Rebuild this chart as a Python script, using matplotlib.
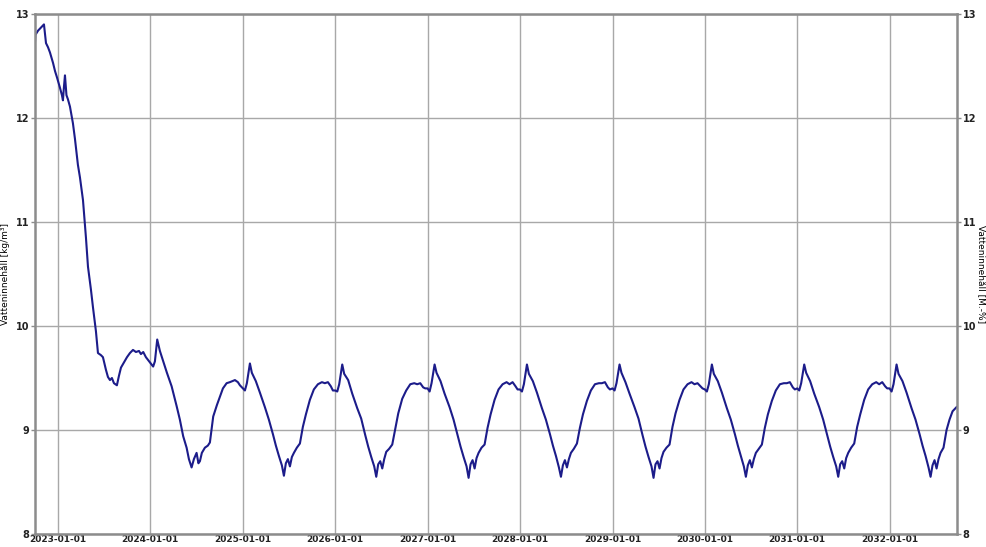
import numpy as np
import pandas as pd
import matplotlib
matplotlib.use("Agg")
from matplotlib import pyplot as plt
import matplotlib.dates as mdates

# first part of the series: decimal year -> water content
start_t = [2022.751, 2022.756, 2022.784, 2022.827, 2022.848, 2022.870, 2022.892, 2022.913,
           2022.946, 2022.968, 2022.989, 2023.022, 2023.043, 2023.054, 2023.065, 2023.076,
           2023.092, 2023.108, 2023.130, 2023.162, 2023.184, 2023.216, 2023.238, 2023.271,
           2023.303, 2023.325, 2023.357, 2023.379, 2023.411, 2023.433, 2023.465, 2023.487,
           2023.519, 2023.541, 2023.563, 2023.584, 2023.606, 2023.638, 2023.660, 2023.682,
           2023.714, 2023.747, 2023.779, 2023.812, 2023.844, 2023.877, 2023.898, 2023.923,
           2023.952, 2023.996]
start_v = [12.73, 12.80, 12.84, 12.88, 12.90, 12.72, 12.68, 12.63,
           12.53, 12.45, 12.39, 12.29, 12.22, 12.17, 12.30, 12.41,
           12.22, 12.18, 12.11, 11.95, 11.80, 11.55, 11.43, 11.21,
           10.85, 10.57, 10.35, 10.18, 9.95, 9.74, 9.72, 9.70,
           9.58, 9.51, 9.48, 9.50, 9.45, 9.43, 9.52, 9.60,
           9.65, 9.70, 9.74, 9.77, 9.75, 9.76, 9.73, 9.75,
           9.70, 9.65]

# year 2024
t_2024 = [2024.031, 2024.050, 2024.075, 2024.104, 2024.140, 2024.180, 2024.231, 2024.285,
          2024.320, 2024.356, 2024.393, 2024.418, 2024.447, 2024.472, 2024.501, 2024.521,
          2024.537, 2024.558, 2024.591, 2024.623, 2024.645, 2024.681, 2024.721, 2024.753,
          2024.786, 2024.826, 2024.861, 2024.916, 2024.948, 2024.970]
v_2024 = [9.61, 9.66, 9.87, 9.76, 9.66, 9.55, 9.42, 9.23,
          9.10, 8.94, 8.83, 8.72, 8.64, 8.72, 8.78, 8.68,
          8.70, 8.78, 8.83, 8.85, 8.88, 9.13, 9.24, 9.32,
          9.40, 9.45, 9.46, 9.48, 9.46, 9.43]

# read positions inside each later year (fraction of year after 1 Jan)
frac = [0.000, 0.022, 0.043, 0.076, 0.097, 0.140, 0.184, 0.238, 0.281, 0.325, 0.357,
        0.390, 0.422, 0.444, 0.465, 0.487, 0.509, 0.530, 0.552, 0.584, 0.617, 0.649,
        0.682, 0.725, 0.768, 0.812, 0.855, 0.887, 0.920, 0.952, 0.974]

v_2025 = [9.40, 9.38, 9.45, 9.64, 9.55, 9.47, 9.36, 9.22, 9.10, 8.96, 8.85,
          8.75, 8.66, 8.56, 8.68, 8.72, 8.65, 8.74, 8.78, 8.83, 8.87, 9.03,
          9.15, 9.29, 9.39, 9.44, 9.46, 9.45, 9.46, 9.42, 9.38]
v_2026 = [9.38, 9.37, 9.44, 9.63, 9.54, 9.48, 9.35, 9.21, 9.11, 8.95, 8.84,
          8.74, 8.65, 8.55, 8.67, 8.70, 8.63, 8.72, 8.79, 8.82, 8.86, 9.01,
          9.16, 9.30, 9.38, 9.44, 9.45, 9.44, 9.45, 9.41, 9.40]
v_2027 = [9.40, 9.37, 9.45, 9.63, 9.55, 9.47, 9.35, 9.22, 9.10, 8.95, 8.84,
          8.74, 8.65, 8.54, 8.67, 8.71, 8.63, 8.73, 8.78, 8.83, 8.86, 9.02,
          9.15, 9.29, 9.39, 9.44, 9.46, 9.44, 9.46, 9.42, 9.39]
v_2028 = [9.39, 9.37, 9.44, 9.63, 9.54, 9.47, 9.36, 9.21, 9.10, 8.96, 8.85,
          8.75, 8.64, 8.55, 8.66, 8.71, 8.64, 8.72, 8.78, 8.82, 8.87, 9.02,
          9.15, 9.28, 9.38, 9.44, 9.45, 9.45, 9.46, 9.41, 9.39]
v_2029 = [9.40, 9.38, 9.45, 9.63, 9.55, 9.46, 9.35, 9.22, 9.11, 8.95, 8.84,
          8.74, 8.65, 8.54, 8.67, 8.70, 8.63, 8.73, 8.79, 8.83, 8.86, 9.03,
          9.16, 9.29, 9.39, 9.44, 9.46, 9.44, 9.45, 9.42, 9.40]
v_2030 = [9.39, 9.37, 9.44, 9.63, 9.54, 9.47, 9.36, 9.21, 9.10, 8.96, 8.85,
          8.75, 8.65, 8.55, 8.66, 8.71, 8.64, 8.72, 8.78, 8.82, 8.86, 9.02,
          9.15, 9.28, 9.38, 9.44, 9.45, 9.45, 9.46, 9.41, 9.39]
v_2031 = [9.40, 9.38, 9.45, 9.63, 9.55, 9.47, 9.35, 9.22, 9.10, 8.95, 8.84,
          8.74, 8.65, 8.55, 8.67, 8.70, 8.63, 8.73, 8.78, 8.83, 8.87, 9.03,
          9.15, 9.29, 9.39, 9.44, 9.46, 9.44, 9.46, 9.42, 9.40]
v_2032 = [9.40, 9.37, 9.44, 9.63, 9.54, 9.47, 9.36, 9.21, 9.10, 8.96, 8.85,
          8.75, 8.64, 8.55, 8.66, 8.71, 8.63, 8.72, 8.78, 8.83, 9.00, 9.10,
          9.18, 9.22]

years = [2025, 2026, 2027, 2028, 2029, 2030, 2031, 2032]
cycles = [v_2025, v_2026, v_2027, v_2028, v_2029, v_2030, v_2031, v_2032]

tick_years = list(range(2023, 2033))
t_min, t_max = 2022.751, 2032.730


def to_date(y):
    yr = int(np.floor(y))
    return pd.Timestamp(year=yr, month=1, day=1) + pd.Timedelta(days=(y - yr) * 365.25)


t_all = start_t + t_2024
v_all = start_v + v_2024
for yr, vals in zip(years, cycles):
    t_all += [yr + f for f in frac[:len(vals)]]
    v_all += vals
dates = [to_date(t) for t in t_all]

fig = plt.figure(figsize=(9.87, 5.47), dpi=100)
ax = fig.add_axes([35 / 987, 13 / 547, 922 / 987, 520 / 547])
ax.plot(dates, v_all, color="#1c1c8a", lw=1.5)

ax.set_xlim(to_date(t_min), to_date(t_max))
ax.set_ylim(8, 13)
ax.set_xticks([pd.Timestamp(year=y, month=1, day=1) for y in tick_years])
ax.xaxis.set_major_formatter(mdates.DateFormatter("%Y-%m-%d"))
ax.set_yticks(range(8, 14))
ax.grid(True, color="#a8a8a8", lw=1)
for s in ax.spines.values():
    s.set_color("#8c8c8c")
    s.set_linewidth(1.8)
ax.tick_params(axis="x", length=0, pad=1, labelsize=6.5, colors="#222222")
ax.tick_params(axis="y", length=3, width=1, color="#8c8c8c", pad=1, labelsize=7,
               labelcolor="#222222")
for lab in ax.get_xticklabels() + ax.get_yticklabels():
    lab.set_fontweight("bold")
ax.set_ylabel("Vatteninnehåll [kg/m³]", fontsize=6.5, labelpad=4)

ax2 = ax.twinx()
ax2.set_ylim(8, 13)
ax2.set_yticks(range(8, 14))
ax2.tick_params(axis="y", length=3, width=1, color="#8c8c8c", pad=1, labelsize=7,
                labelcolor="#222222")
for lab in ax2.get_yticklabels():
    lab.set_fontweight("bold")
for s in ax2.spines.values():
    s.set_visible(False)
ax2.set_ylabel("Vatteninnehåll [M.-%]", fontsize=6.5, rotation=270, labelpad=6)

plt.savefig("out.png", dpi=100)
